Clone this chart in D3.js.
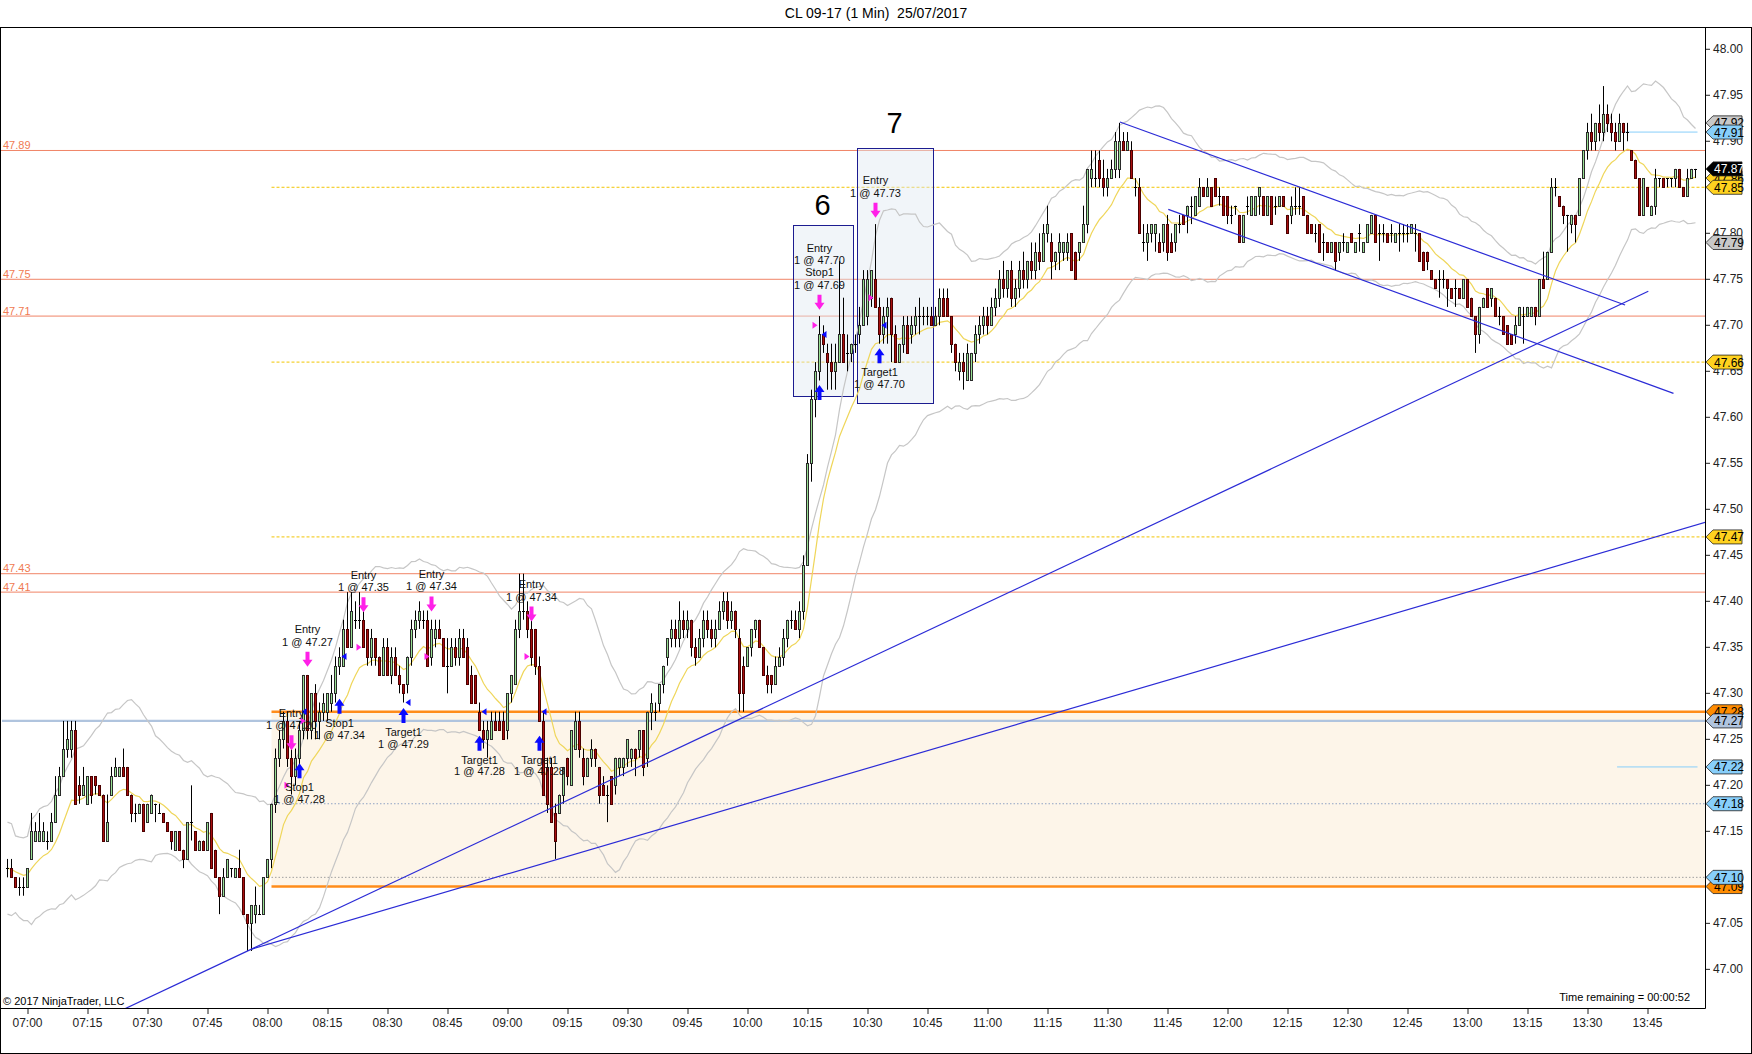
<!DOCTYPE html>
<html><head><meta charset="utf-8">
<script src="https://cdn.jsdelivr.net/npm/d3@7"></script>
<style>
html,body{margin:0;padding:0;background:#fff;}
svg{display:block;font-family:Arial,"Liberation Sans",sans-serif;}
</style></head><body>
<svg id="c" width="1752" height="1054"></svg>
<script>
// ---------------- DATA ----------------
const chartTitle = "CL 09-17 (1 Min)  25/07/2017";
const firstBarMinute = -5;          // minutes relative to 07:00
const priceBase = 47.00;            // bar values are cents above this
// [open, high, low, close] in cents above 47.00, one bar per minute
const bars0655 = [[11,12,10,11],[11,12,10,10],[10,10,9,9],[9,10,8,9],[9,10,8,9]];
const bars0700 = [[9,11,9,11],[12,17,12,15],[14,16,14,15],[14,17,14,15],[14,16,14,15],[14,15,13,14],[14,17,14,16],[16,21,16,19],[19,22,19,21],[21,27,21,24],
[24,27,23,25],[24,27,23,26],[26,27,18,18],[20,21,18,19],[19,22,19,20],[18,21,18,21],[21,21,18,19],[21,21,19,20],[20,20,19,19],[19,19,14,14],
[14,19,14,16],[19,22,19,21],[21,23,21,22],[21,22,21,22],[22,24,21,21],[22,22,19,19],[19,19,16,17],[17,18,16,17],[17,18,17,18],[18,18,15,15],
[16,18,16,18],[17,19,17,19],[18,18,16,18],[17,18,17,17],[17,17,16,16],[16,16,15,15],[15,15,13,14],[13,15,13,15],[15,15,13,13],[13,13,11,12],
[12,16,12,16],[16,20,14,16],[15,15,13,13],[13,14,13,14],[14,14,13,13],[13,16,13,16],[17,17,11,11],[13,13,10,10],[10,10,6,8],[8,11,8,10],
[10,12,10,12],[11,11,10,11],[10,11,10,11],[11,13,10,10],[10,10,6,6],[6,6,2,5],[5,7,2,7],[6,9,5,7],[6,7,6,6],[6,10,6,10]];
const bars0800 = [[10,12,10,12],[12,18,11,18],[18,24,17,23],[23,26,22,25],[25,28,24,27],[27,28,22,23],[23,24,19,21],[21,24,20,23],[23,27,22,26],[26,32,25,32],
[32,32,25,26],[26,30,25,30],[30,31,25,27],[27,29,25,28],[28,30,27,29],[28,30,27,30],[29,32,28,30],[30,34,29,33],[33,35,32,34],[33,38,33,37],
[37,41,35,35],[35,41,35,39],[38,40,37,38],[38,41,37,38],[38,39,35,35],[37,37,33,34],[34,37,33,36],[36,36,33,34],[34,34,32,32],[32,36,32,35],
[35,36,32,32],[32,35,31,34],[34,35,32,32],[32,33,30,31],[31,31,29,30],[31,34,30,34],[34,38,33,37],[37,39,36,38],[38,40,37,39],[38,39,37,38],
[38,39,33,33],[34,38,33,37],[36,38,35,37],[37,38,36,36],[36,36,33,33],[33,36,30,33],[33,36,33,35],[35,36,33,34],[34,37,33,36],[36,37,34,34],
[35,36,31,31],[32,33,29,29],[32,32,29,29],[28,29,26,26],[26,27,24,25],[25,27,23,26],[25,28,25,27],[27,28,26,26],[27,28,26,26],[27,28,25,25]];
const bars0900 = [[26,30,25,30],[30,32,29,32],[31,38,31,37],[37,43,36,39],[39,43,38,39],[39,40,36,37],[37,39,33,34],[37,37,32,33],[33,34,27,27],[27,28,19,19],
[22,23,17,18],[22,23,16,16],[17,18,12,14],[17,19,17,19],[19,22,18,22],[23,23,20,21],[20,26,20,26],[24,28,24,27],[27,28,23,24],[23,24,20,21],
[21,23,21,23],[23,25,22,24],[24,24,22,23],[22,22,18,19],[20,21,19,19],[19,20,16,19],[21,21,18,18],[20,23,19,23],[22,23,21,23],[22,23,21,23],
[23,25,22,25],[23,24,22,24],[24,24,21,23],[24,26,23,26],[26,26,21,22],[23,28,22,28],[28,30,26,29],[28,29,27,28],[29,31,28,31],[31,33,30,33],
[34,36,33,36],[36,38,35,37],[37,38,35,36],[36,40,35,38],[38,39,36,37],[37,39,36,38],[38,38,34,35],[35,36,33,34],[34,37,34,36],[36,39,35,38],
[38,39,36,37],[37,38,35,36],[36,38,35,37],[37,40,37,39],[39,41,38,40],[40,41,37,38],[38,40,37,39],[39,39,36,37],[36,37,28,30],[33,34,28,30]];
const bars1000 = [[33,35,33,35],[35,37,34,37],[37,38,36,38],[38,38,35,35],[35,35,32,32],[32,33,30,31],[32,32,30,31],[31,34,31,33],[33,35,33,34],[34,37,33,36],
[36,38,35,38],[38,39,37,38],[38,39,37,37],[37,40,36,39],[39,45,38,44],[44,56,44,55],[55,63,53,62],[62,66,60,65],[65,71,64,69],[69,70,67,68],
[67,68,63,66],[66,68,63,65],[65,68,63,66],[66,77,66,69],[69,73,66,66],[67,69,65,67],[67,68,66,68],[68,69,67,68],[69,72,68,70],[70,76,70,75],
[71,76,70,75],[73,76,72,76],[75,81,72,72],[72,73,68,69],[69,72,68,71],[71,73,68,72],[73,73,66,69],[69,70,66,66],[66,68,66,68],[68,71,67,70],
[70,71,67,67],[69,71,68,70],[70,72,69,71],[71,73,69,71],[71,72,70,71],[71,72,70,71],[71,72,70,70],[70,72,70,71],[71,74,70,73],[73,74,71,71],
[73,74,71,71],[71,71,67,68],[68,68,65,66],[65,67,64,66],[66,67,63,65],[64,68,64,67],[64,67,64,67],[67,70,66,69],[69,71,68,70],[70,72,69,71]];
const bars1100 = [[71,72,69,70],[70,73,70,72],[72,74,71,73],[73,76,72,75],[75,77,73,74],[74,76,73,76],[76,77,72,73],[73,75,72,74],[74,77,73,76],[76,78,74,75],
[75,77,74,77],[77,79,75,76],[76,79,75,78],[78,80,76,77],[77,81,77,80],[80,83,79,81],[79,80,75,77],[77,78,76,78],[78,80,76,79],[78,79,77,79],
[78,80,77,79],[80,80,76,76],[78,78,75,75],[78,79,77,79],[79,83,79,81],[81,87,80,87],[86,89,85,87],[86,89,85,86],[88,89,85,86],[86,88,84,85],
[85,87,84,86],[86,88,86,87],[87,91,86,90],[87,92,86,90],[90,91,89,89],[89,91,89,90],[89,90,86,86],[85,86,84,85],[85,86,80,80],[79,81,78,79],
[79,81,77,80],[80,81,79,81],[80,81,78,81],[79,80,78,78],[79,81,78,81],[81,82,77,78],[79,80,78,78],[79,81,78,81],[81,82,80,81],[82,82,81,81],
[82,83,80,83],[83,84,81,83],[82,84,82,84],[83,86,83,85],[85,85,84,84],[84,86,84,85],[85,85,83,83],[86,86,84,84],[84,85,83,84],[84,84,82,82]];
const bars1200 = [[84,84,81,82],[82,83,81,82],[83,83,82,83],[82,82,79,79],[79,82,79,82],[83,84,82,83],[82,84,82,84],[82,84,82,84],[84,85,82,85],[84,84,82,82],
[82,84,82,84],[84,84,81,81],[83,84,82,83],[83,84,83,84],[84,84,83,83],[82,82,80,80],[82,84,81,83],[83,85,82,83],[83,85,82,83],[84,84,82,82],
[82,82,80,80],[81,81,80,80],[80,81,79,80],[81,81,78,78],[79,80,77,79],[79,79,78,78],[78,79,78,79],[79,79,76,77],[78,79,77,79],[79,80,78,79],
[78,79,78,79],[80,80,79,79],[78,79,78,79],[80,81,78,80],[78,79,78,79],[79,81,79,81],[80,82,80,82],[82,82,79,79],[80,81,77,80],[80,81,79,80],
[80,80,79,79],[80,81,79,80],[79,80,79,80],[80,81,78,80],[80,81,79,80],[80,81,79,80],[80,81,80,81],[80,81,78,80],[80,80,77,77],[78,78,76,76],
[78,78,76,77],[76,76,75,75],[75,75,74,74],[75,76,73,75],[75,76,74,75],[75,75,72,74],[74,74,73,73],[74,75,72,74],[74,74,73,73],[73,75,73,75]];
const bars1300 = [[75,75,72,72],[73,73,71,71],[71,71,67,69],[69,72,68,72],[72,73,72,73],[74,74,72,72],[73,74,72,74],[73,73,71,71],[71,72,70,71],[71,71,69,69],
[70,70,68,68],[69,69,68,68],[69,71,68,70],[70,72,70,72],[71,72,68,71],[71,72,71,72],[71,72,71,72],[72,72,70,71],[71,75,71,75],[75,78,74,74],
[75,78,75,78],[78,86,78,85],[85,86,84,85],[84,84,83,83],[83,83,81,82],[82,82,78,82],[81,82,80,82],[82,82,79,81],[82,86,82,86],[86,89,86,89],
[89,92,88,91],[91,93,89,90],[90,92,89,92],[92,94,90,91],[91,96,90,93],[93,94,91,92],[92,93,90,91],[91,92,89,90],[90,93,90,92],[92,92,89,91],
[91,92,90,91],[89,89,88,88],[88,88,86,86],[86,86,82,82],[82,86,82,86],[85,85,83,83],[82,83,82,83],[83,87,82,86],[86,86,85,86],[86,86,85,85],
[86,86,85,86],[86,86,85,86],[86,87,85,87],[87,87,85,85],[85,85,84,84],[84,87,84,86],[86,87,86,87],[87,87,86,87]];

const yTickValues = d3.range(0, 21).map(i => +(47 + i * 0.05).toFixed(2));
const yTicksHiddenByTags = [47.85, 47.10];
const xTickMinutes = d3.range(0, 406, 15);

const coralLevels  = [47.89, 47.75, 47.71, 47.43, 47.41];
const goldLevels   = [47.85, 47.66, 47.47];
const orangeLevels = [47.28, 47.09];
const steelLevel   = 47.27;
const dottedLevels = [{p:47.18, c:"#8fa3c4"}, {p:47.10, c:"#a0a0a0"}];
const zoneLevels   = [47.28, 47.09];
const skyLevels    = [47.91, 47.22];
const levelStartMinute = 61;
const skyStartMinute = 397.4;

// trend lines: [minute, price] anchors
const trendLines = [
  {a:[56, 47.022], b:[405.2, 47.737], extendStart:true,  extendEnd:false},
  {a:[56, 47.022], b:[132, 47.119],   extendStart:false, extendEnd:true},
  {a:[273.1, 47.921], b:[399.4, 47.722], extendStart:false, extendEnd:false},
  {a:[285.2, 47.826], b:[411.5, 47.626], extendStart:false, extendEnd:false}
];
const boxes = [
  {label:"6", m0:191.3, m1:206.2, pTop:47.809, pBot:47.623, labelPrice:47.831},
  {label:"7", m0:207.3, m1:226.2, pTop:47.893, pBot:47.616, labelPrice:47.920}
];
const executions = [
  {m:66,  side:"sell", price:47.20, tip:47.238, text:["Entry","1 @ 47.20"]},
  {m:68,  side:"buy",  price:47.28, tip:47.224, text:["Stop1","1 @ 47.28"]},
  {m:70,  side:"sell", price:47.27, tip:47.329, text:["Entry","1 @ 47.27"]},
  {m:78,  side:"buy",  price:47.34, tip:47.294, text:["Stop1","1 @ 47.34"]},
  {m:84,  side:"sell", price:47.35, tip:47.388, text:["Entry","1 @ 47.35"]},
  {m:94,  side:"buy",  price:47.29, tip:47.284, text:["Target1","1 @ 47.29"]},
  {m:101, side:"sell", price:47.34, tip:47.389, text:["Entry","1 @ 47.34"]},
  {m:113, side:"buy",  price:47.28, tip:47.254, text:["Target1","1 @ 47.28"]},
  {m:126, side:"sell", price:47.34, tip:47.378, text:["Entry","1 @ 47.34"]},
  {m:128, side:"buy",  price:47.28, tip:47.254, text:["Target1","1 @ 47.28"]},
  {m:198, side:"sell", price:47.70, tip:47.717, text:["Entry","1 @ 47.70","Stop1","1 @ 47.69"]},
  {m:198, side:"buy",  price:47.69, tip:47.635, text:[]},
  {m:212, side:"sell", price:47.73, tip:47.817, text:["Entry","1 @ 47.73"]},
  {m:213, side:"buy",  price:47.70, tip:47.675, text:["Target1","1 @ 47.70"]}
];
// price markers on the axis, drawn in this order
const axisTags = [
  {p:47.86, fill:"#ffd21f", color:"#000"},
  {p:47.85, fill:"#ffd21f", color:"#000"},
  {p:47.87, fill:"#000000", color:"#fff"},
  {p:47.92, fill:"#c8c8c8", color:"#000"},
  {p:47.91, fill:"#87cefa", color:"#000"},
  {p:47.79, fill:"#c8c8c8", color:"#000"},
  {p:47.66, fill:"#ffd21f", color:"#000"},
  {p:47.47, fill:"#ffd21f", color:"#000"},
  {p:47.28, fill:"#ff8c00", color:"#000"},
  {p:47.27, fill:"#b0c4de", color:"#000"},
  {p:47.22, fill:"#87cefa", color:"#000"},
  {p:47.18, fill:"#87cefa", color:"#000"},
  {p:47.09, fill:"#ff8c00", color:"#000"},
  {p:47.10, fill:"#87cefa", color:"#000"}
];
const keltnerPeriod = 20, keltnerMult = 2.5, emaPeriod = 14;

// ---------------- CHART ----------------
const svg = d3.select("#c");
const W = 1752, H = 1054, plotL = 0, plotR = 1705, plotT = 27, plotB = 1008;
const base = new Date(2017, 6, 25, 7, 0, 0);
const tm = m => new Date(base.getTime() + m * 60000);
const x = d3.scaleTime().domain([tm(-6.875), tm(419.375)]).range([plotL, plotR]);
const y = d3.scaleLinear().domain([46.958, 48.0242]).range([plotB, plotT]);

const raw = [].concat(bars0655, bars0700, bars0800, bars0900, bars1000, bars1100, bars1200, bars1300);
const bars = raw.map((b, i) => ({
  m: firstBarMinute + i,
  o: priceBase + b[0] / 100, h: priceBase + b[1] / 100,
  l: priceBase + b[2] / 100, c: priceBase + b[3] / 100
}));
const lastMinute = bars[bars.length - 1].m;

// indicators derived from bars
const ema = []; const k = 2 / (emaPeriod + 1);
bars.forEach((b, i) => ema.push(i === 0 ? b.c : b.c * k + ema[i - 1] * (1 - k)));
const kUp = [], kDn = [];
bars.forEach((b, i) => {
  const w = bars.slice(Math.max(0, i - keltnerPeriod + 1), i + 1);
  const mid = d3.mean(w, d => (d.h + d.l + d.c) / 3);
  const off = d3.mean(w, d => d.h - d.l) * keltnerMult;
  kUp.push(mid + off); kDn.push(mid - off);
});

svg.append("rect").attr("width", W).attr("height", H).attr("fill", "#fff");
svg.append("defs").append("clipPath").attr("id", "plotClip")
  .append("rect").attr("x", plotL).attr("y", plotT).attr("width", plotR - plotL).attr("height", plotB - plotT);
const plot = svg.append("g").attr("clip-path", "url(#plotClip)");

// zone fill
plot.append("rect")
  .attr("x", x(tm(levelStartMinute))).attr("width", plotR - x(tm(levelStartMinute)))
  .attr("y", y(zoneLevels[0])).attr("height", y(zoneLevels[1]) - y(zoneLevels[0]))
  .attr("fill", "#fdf5e9");

// dotted levels
dottedLevels.forEach(d => plot.append("line")
  .attr("x1", x(tm(levelStartMinute))).attr("x2", plotR).attr("y1", y(d.p)).attr("y2", y(d.p))
  .attr("stroke", d.c).attr("stroke-width", 1).attr("stroke-dasharray", "1.5,2"));

// coral full-width levels
coralLevels.forEach(p => {
  plot.append("line").attr("x1", plotL).attr("x2", plotR).attr("y1", y(p)).attr("y2", y(p))
    .attr("stroke", "#f08466").attr("stroke-width", 1);
  svg.append("text").attr("x", 3).attr("y", y(p) - 1.5).text(p.toFixed(2))
    .attr("font-size", 11).attr("fill", "#f07a52");
});
// gold dashed
goldLevels.forEach(p => plot.append("line")
  .attr("x1", x(tm(levelStartMinute))).attr("x2", plotR).attr("y1", y(p)).attr("y2", y(p))
  .attr("stroke", "#f2c500").attr("stroke-width", 1).attr("stroke-dasharray", "3,2"));
// steel blue
plot.append("line").attr("x1", plotL + 2).attr("x2", plotR)
  .attr("y1", y(steelLevel)).attr("y2", y(steelLevel))
  .attr("stroke", "#b0c4de").attr("stroke-width", 2.2);
// orange thick
orangeLevels.forEach(p => plot.append("line")
  .attr("x1", x(tm(levelStartMinute))).attr("x2", plotR).attr("y1", y(p)).attr("y2", y(p))
  .attr("stroke", "#ff8c1a").attr("stroke-width", 2.5));
// sky short levels
skyLevels.forEach(p => plot.append("line")
  .attr("x1", x(tm(skyStartMinute))).attr("x2", x(tm(lastMinute)) + 2).attr("y1", y(p)).attr("y2", y(p))
  .attr("stroke", "#87cefa").attr("stroke-width", 1));

// boxes
boxes.forEach(b => {
  plot.append("rect")
    .attr("x", Math.round(x(tm(b.m0))) + 0.5).attr("y", Math.round(y(b.pTop)) + 0.5)
    .attr("width", Math.round(x(tm(b.m1)) - x(tm(b.m0)))).attr("height", Math.round(y(b.pBot) - y(b.pTop)))
    .attr("fill", "rgba(225,232,242,0.45)").attr("stroke", "#1c1c90").attr("stroke-width", 1);
  svg.append("text").attr("x", (x(tm(b.m0)) + x(tm(b.m1))) / 2).attr("y", y(b.labelPrice) + 10)
    .attr("text-anchor", "middle").attr("font-size", 29).attr("fill", "#000").text(b.label);
});

// bands & ema
const lineGen = arr => d3.line().x((d, i) => x(tm(bars[i].m))).y(d => y(d))(arr);
plot.append("path").attr("d", lineGen(kUp)).attr("fill", "none").attr("stroke", "#c6c6c6").attr("stroke-width", 1.2);
plot.append("path").attr("d", lineGen(kDn)).attr("fill", "none").attr("stroke", "#c6c6c6").attr("stroke-width", 1.2);
plot.append("path").attr("d", lineGen(ema)).attr("fill", "none").attr("stroke", "#efd65a").attr("stroke-width", 1.2);

// candles
const cg = plot.append("g");
bars.forEach(b => {
  const cx = x(tm(b.m));
  cg.append("line").attr("x1", cx).attr("x2", cx).attr("y1", y(b.h)).attr("y2", y(b.l))
    .attr("stroke", "#000").attr("stroke-width", 1);
  const top = Math.round(y(Math.max(b.o, b.c))), bot = Math.round(y(Math.min(b.o, b.c)));
  if (b.c === b.o) {
    cg.append("line").attr("x1", cx - 1.5).attr("x2", cx + 1.5).attr("y1", top + 0.5).attr("y2", top + 0.5)
      .attr("stroke", "#000").attr("stroke-width", 1);
  } else {
    const up = b.c > b.o;
    cg.append("rect").attr("x", cx - 1).attr("width", 2).attr("y", top + 0.5).attr("height", Math.max(1, bot - top))
      .attr("fill", up ? "#98e093" : "#a80e0e").attr("stroke", up ? "#2a2a2a" : "#4a0000").attr("stroke-width", 1);
  }
});

// trend lines
trendLines.forEach(t => {
  const slope = (t.b[1] - t.a[1]) / (t.b[0] - t.a[0]);
  const m0 = t.extendStart ? -10 : t.a[0];
  const m1 = t.extendEnd ? 425 : t.b[0];
  plot.append("line")
    .attr("x1", x(tm(m0))).attr("y1", y(t.a[1] + (m0 - t.a[0]) * slope))
    .attr("x2", x(tm(m1))).attr("y2", y(t.a[1] + (m1 - t.a[0]) * slope))
    .attr("stroke", "#2b2bd6").attr("stroke-width", 1.2);
});

// executions
const pink = "#ff20e8", blue = "#0a0aff";
executions.forEach(e => {
  const cx = x(tm(e.m));
  const ty = y(e.tip), py = y(e.price);
  if (e.side === "sell") {
    plot.append("path").attr("fill", pink)
      .attr("d", `M${cx-2},${ty-15} L${cx+2},${ty-15} L${cx+2},${ty-7} L${cx+5},${ty-7} L${cx},${ty} L${cx-5},${ty-7} L${cx-2},${ty-7} Z`);
    plot.append("path").attr("fill", pink)
      .attr("d", `M${cx-7},${py-3.5} L${cx-2},${py} L${cx-7},${py+3.5} Z`);
    const n = e.text.length;
    e.text.forEach((s, i) => svg.append("text").attr("x", cx).attr("y", ty - 25 - (n - 1 - i) * 12.2 + 4)
      .attr("text-anchor", "middle").attr("font-size", 11).attr("fill", "#111").text(s));
  } else {
    plot.append("path").attr("fill", blue)
      .attr("d", `M${cx-2},${ty+15} L${cx+2},${ty+15} L${cx+2},${ty+7} L${cx+5},${ty+7} L${cx},${ty} L${cx-5},${ty+7} L${cx-2},${ty+7} Z`);
    plot.append("path").attr("fill", blue)
      .attr("d", `M${cx+7},${py-3.5} L${cx+2},${py} L${cx+7},${py+3.5} Z`);
    e.text.forEach((s, i) => svg.append("text").attr("x", cx).attr("y", ty + 24 + i * 11.7 + 4)
      .attr("text-anchor", "middle").attr("font-size", 11).attr("fill", "#111").text(s));
  }
});

// axes
const xAxis = d3.axisBottom(x).tickValues(xTickMinutes.map(tm)).tickFormat(d3.timeFormat("%H:%M"))
  .tickSize(6).tickSizeOuter(0).tickPadding(4).offset(0);
const gx = svg.append("g").attr("transform", `translate(0,${plotB})`).call(xAxis);
gx.select(".domain").remove();
gx.selectAll("text").attr("font-size", 12).attr("fill", "#222").attr("font-family", "Arial, 'Liberation Sans', sans-serif");
gx.selectAll(".tick line").attr("stroke", "#222").attr("transform", "translate(0.5,0)");

const yAxis = d3.axisRight(y).tickValues(yTickValues)
  .tickFormat(v => yTicksHiddenByTags.includes(v) ? "" : d3.format(".2f")(v))
  .tickSize(5).tickSizeOuter(0).tickPadding(3).offset(0);
const gy = svg.append("g").attr("transform", `translate(${plotR},0)`).call(yAxis);
gy.select(".domain").remove();
gy.selectAll("text").attr("font-size", 12).attr("fill", "#222").attr("font-family", "Arial, 'Liberation Sans', sans-serif");
gy.selectAll(".tick line").attr("stroke", "#222");

// axis tags
axisTags.forEach(t => {
  const cy = y(t.p);
  svg.append("path").attr("fill", t.fill).attr("stroke", "#222").attr("stroke-width", 0.8)
    .attr("d", `M${plotR+1},${cy} L${plotR+8},${cy-7} L${plotR+37},${cy-7} L${plotR+37},${cy+7} L${plotR+8},${cy+7} Z`);
  svg.append("text").attr("x", plotR + 9).attr("y", cy + 4.5).attr("font-size", 12)
    .attr("fill", t.color).text(t.p.toFixed(2));
});

// frame
const fr = svg.append("g").attr("stroke", "#000").attr("stroke-width", 1).attr("fill", "none");
fr.append("line").attr("x1", 0).attr("x2", W).attr("y1", plotT + 0.5).attr("y2", plotT + 0.5);
fr.append("line").attr("x1", plotR + 0.5).attr("x2", plotR + 0.5).attr("y1", plotT).attr("y2", plotB + 0.5);
fr.append("line").attr("x1", 0).attr("x2", plotR + 0.5).attr("y1", plotB + 0.5).attr("y2", plotB + 0.5);
fr.append("line").attr("x1", W - 0.5).attr("x2", W - 0.5).attr("y1", plotT).attr("y2", H);
fr.append("line").attr("x1", 0).attr("x2", W).attr("y1", H - 0.5).attr("y2", H - 0.5);
fr.append("line").attr("x1", 0.5).attr("x2", 0.5).attr("y1", plotT).attr("y2", H);

// texts
svg.append("text").attr("x", W / 2).attr("y", 18).attr("text-anchor", "middle")
  .attr("font-size", 14).attr("fill", "#000").style("white-space", "pre").text(chartTitle);
svg.append("text").attr("x", 3).attr("y", 1005).attr("font-size", 11).attr("fill", "#000")
  .text("\u00A9 2017 NinjaTrader, LLC");
svg.append("text").attr("x", 1690).attr("y", 1001).attr("text-anchor", "end").attr("font-size", 11)
  .attr("fill", "#000").text("Time remaining = 00:00:52");
</script>
</body></html>
